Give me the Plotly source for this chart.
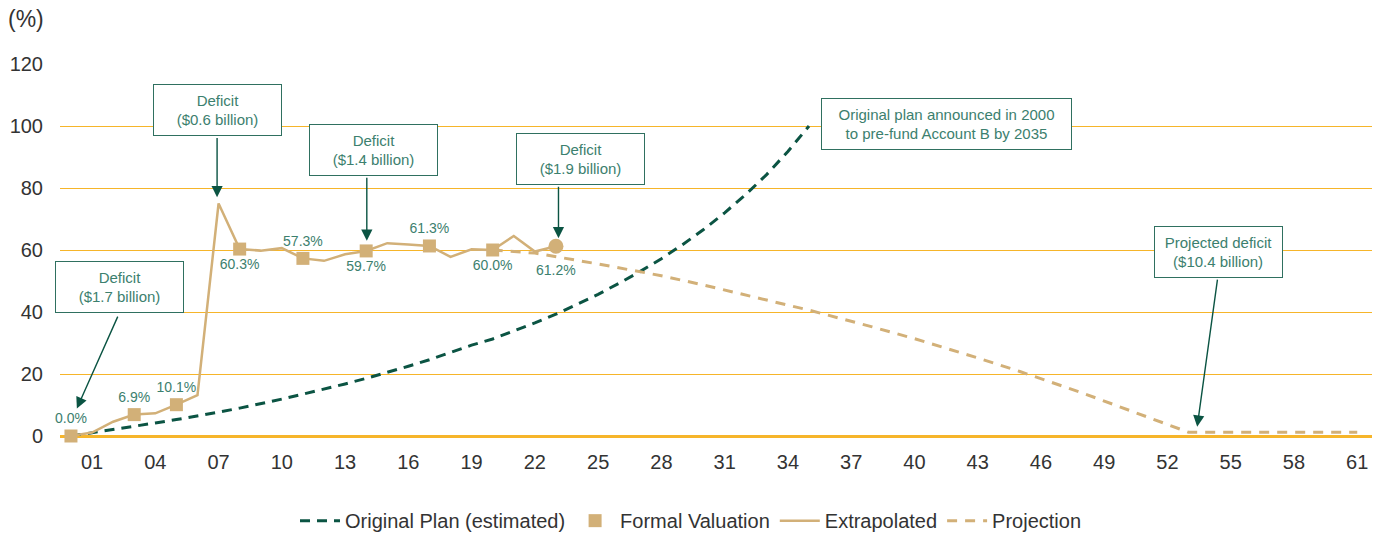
import plotly.graph_objects as go

# ---- data -------------------------------------------------------------
plan_years = list(range(2000, 2036))
plan_vals = [0, 1.0, 2.0, 3.1, 4.2, 5.3, 6.4, 7.7, 9.0, 10.4, 11.9, 13.5, 15.1,
             16.8, 18.6, 20.5, 22.5, 24.6, 26.9, 29.3, 31.3, 33.8, 36.5, 39.3,
             42.4, 45.7, 49.3, 53.1, 57.2, 61.7, 66.6, 72.0, 77.9, 84.4, 91.8,
             100.0]

ext_years = list(range(2000, 2024))
ext_vals = [0, 1.1, 4.6, 6.9, 7.3, 10.1, 13.2, 75.0, 60.3, 59.8, 60.6, 57.3,
            56.5, 58.6, 59.7, 62.2, 61.8, 61.3, 57.8, 60.2, 60.0, 64.5, 59.5,
            61.2]

val_years = [2000, 2003, 2005, 2008, 2011, 2014, 2017, 2020]
val_vals = [0.0, 6.9, 10.1, 60.3, 57.3, 59.7, 61.3, 60.0]
val_labelpos = ["top center", "top center", "top center", "bottom center",
                "top center", "bottom center", "top center", "bottom center"]

est_year = [2023]
est_val = [61.2]

proj_years = [2020, 2022, 2025, 2028, 2030, 2033, 2035, 2038, 2040, 2043,
              2045, 2048, 2050, 2052, 2053, 2061]
proj_vals = [60.0, 59.0, 55.5, 51.7, 48.7, 43.8, 40.6, 35.2, 31.4, 25.2,
             20.8, 13.8, 8.7, 3.8, 1.2, 1.2]

tick_years = list(range(2001, 2062, 3))
tick_text = [f"{y % 100:02d}" for y in tick_years]

# ---- styling ----------------------------------------------------------
TAN = "#D2B078"
DARK = "#0B5443"
TEAL = "#3C806E"
BOX = "#2F7060"
GRID = "#F6B52A"
TXT = "#333333"
FONT = "Liberation Sans"

fig = go.Figure()

fig.add_trace(go.Scatter(
    x=plan_years, y=plan_vals, mode="lines", name="Original Plan (estimated)",
    line=dict(color=DARK, width=3, dash="10px,7px"), cliponaxis=False,
    legendrank=1))

fig.add_trace(go.Scatter(
    x=proj_years, y=proj_vals, mode="lines", name="Projection",
    line=dict(color=TAN, width=3, dash="10px,8px"), cliponaxis=False,
    legendrank=4))

fig.add_trace(go.Scatter(
    x=ext_years, y=ext_vals, mode="lines", name="Extrapolated",
    line=dict(color=TAN, width=2.5), cliponaxis=False, legendrank=3))

fig.add_trace(go.Scatter(
    x=val_years, y=val_vals, mode="markers+text", name="Formal Valuation",
    marker=dict(symbol="square", size=13, color=TAN),
    text=[f"{v:.1f}%" for v in val_vals], textposition=val_labelpos,
    textfont=dict(family=FONT, size=14, color=TEAL), cliponaxis=False,
    legendrank=2))

# latest estimate: round marker, its label set a little lower
fig.add_trace(go.Scatter(
    x=est_year, y=est_val, mode="markers", showlegend=False,
    marker=dict(symbol="circle", size=15, color=TAN), cliponaxis=False))
for ex, ev in zip(est_year, est_val):
    fig.add_annotation(x=ex, y=ev, xref="x", yref="y", text=f"{ev:.1f}%",
                       showarrow=False, yanchor="middle", yshift=-24,
                       font=dict(family=FONT, size=14, color=TEAL))

# ---- annotation boxes and arrows -------------------------------------
boxes = [
    (2006.95, 105.1, "Deficit<br>($0.6 billion)", 113),
    (2014.35, 92.3, "Deficit<br>($1.4 billion)", 113),
    (2024.15, 89.5, "Deficit<br>($1.9 billion)", 113),
    (2002.28, 48.1, "Deficit<br>($1.7 billion)", 113),
    (2041.54, 100.6, "Original plan announced in 2000<br>to pre-fund Account B by 2035", 235),
    (2054.42, 59.5, "Projected deficit<br>($10.4 billion)", 113),
]
for bx, by, txt, w in boxes:
    fig.add_annotation(x=bx, y=by, xref="x", yref="y", text=txt,
                       showarrow=False, align="center", width=w, height=36,
                       bordercolor=BOX, borderwidth=1, borderpad=7,
                       bgcolor="white",
                       font=dict(family=FONT, size=15, color=TEAL))

# arrows: (tip year, tip value, tail year, tail value)
arrows = [
    (2006.93, 77.0, 2006.93, 96.6),
    (2014.03, 63.0, 2014.03, 83.8),
    (2023.12, 63.8, 2023.12, 80.9),
    (2000.28, 8.9, 2002.25, 39.0),
    (2053.41, 3.0, 2054.38, 50.9),
]
for tx, ty, sx, sy in arrows:
    fig.add_annotation(x=tx, y=ty, ax=sx, ay=sy, xref="x", yref="y",
                       axref="x", ayref="y", text="", showarrow=True,
                       arrowhead=2, arrowsize=1.6, arrowwidth=1.4,
                       arrowcolor=DARK)

fig.add_annotation(x=-54 / 1312, y=(436 - 4) / 372, xref="paper",
                   yref="paper", text="(%)", showarrow=False,
                   xanchor="left", yanchor="top",
                   font=dict(family=FONT, size=23, color=TXT))

# ---- layout -----------------------------------------------------------
fig.update_layout(
    width=1382, height=534,
    margin=dict(l=60, r=10, t=64, b=98),
    paper_bgcolor="white", plot_bgcolor="white",
    font=dict(family=FONT, size=20, color=TXT),
    xaxis=dict(range=[1999.48, 2061.7], tickvals=tick_years,
               ticktext=tick_text, showgrid=False, zeroline=False,
               showline=False, ticks="", ticklabelstandoff=12,
               tickfont=dict(family=FONT, size=20, color=TXT)),
    yaxis=dict(range=[0, 120], tickvals=[0, 20, 40, 60, 80, 100, 120],
               showgrid=True, gridcolor=GRID, gridwidth=1.3,
               zeroline=True, zerolinecolor=GRID, zerolinewidth=2.5,
               showline=False, ticks="", ticklabelstandoff=16,
               tickfont=dict(family=FONT, size=20, color=TXT)),
    legend=dict(orientation="h", xref="container", yref="container",
                x=0.5, xanchor="center", y=0.025, yanchor="middle",
                font=dict(family=FONT, size=20, color=TXT),
                traceorder="normal", itemwidth=40),
    showlegend=True,
)

fig.write_html("out.html")
